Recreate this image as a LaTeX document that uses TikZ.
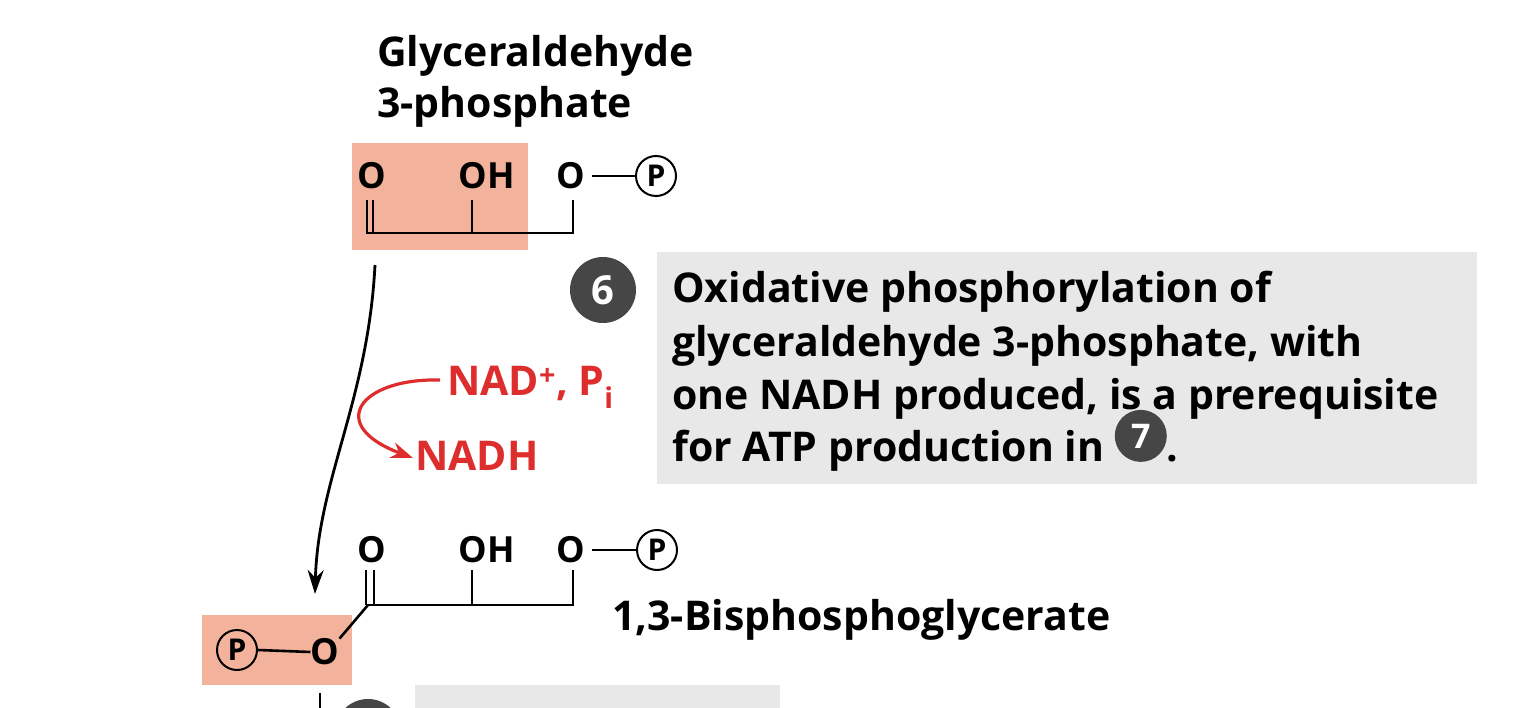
\documentclass[tikz,border=0pt]{standalone}
\usepackage{fontspec}
\setmainfont{Open Sans}
\usetikzlibrary{arrows.meta}
\definecolor{salmon}{RGB}{242,178,155}
\definecolor{boxgray}{RGB}{232,232,232}
\definecolor{nadred}{RGB}{222,45,45}
\definecolor{numgray}{RGB}{70,70,70}
\tikzset{
 atom/.style={font=\bfseries\fontsize{36}{36}\selectfont, inner sep=0pt},
 lbl/.style={font=\bfseries\fontsize{41}{52}\selectfont, inner sep=0pt, anchor=base west},
 pc/.style={circle, draw, line width=2pt, minimum size=40pt, inner sep=0pt, font=\bfseries\fontsize{30}{30}\selectfont},
 bond/.style={line width=2.6pt},
 num/.style={circle, fill=numgray, text=white, inner sep=0pt, font=\bfseries\fontsize{40}{40}\selectfont}
}
\begin{document}
\begin{tikzpicture}[x=1pt,y=-1pt]
\useasboundingbox (0,0) rectangle (1528,708);
% top molecule
\fill[salmon] (352,143) rectangle (528,250);
\node[lbl] (t1) at (377,67) {Glyceraldehyde};
\node[lbl] (t2) at (377,118) {3-phosphate};
\node[atom] (a1) at (372,176) {O};
\node[atom] (a2) at (487,176) {OH};
\node[atom] (a3) at (571,176) {O};
\node[pc] (p1) at (656,176) {P};
\draw[bond] (a3.east) ++(6,0) -- (p1.west);
\draw[bond] (367,200) -- (367,233);
\draw[bond] (373,200) -- (373,233);
\draw[bond] (366,233) -- (574,233);
\draw[bond] (472,200) -- (472,233);
\draw[bond] (573,200) -- (573,234);
% arrow
\coordinate (s) at (375,265);
\coordinate (e) at (315,594);
\draw[line width=2.8pt, -{Stealth[length=24pt,width=16pt]}] (s) .. controls (368,400) and (318,480) .. (e);
% red
\node[lbl, text=nadred] (nad) at (447,395) {NAD\textsuperscript{+}, P\textsubscript{i}};
\node[lbl, text=nadred] (nadh) at (415,470) {NADH};
\draw[nadred, line width=3.2pt, -{Stealth[length=22pt,width=16pt]}] (440,380) .. controls (360,378) and (325,425) .. (413,458);
% step 6
\node[num, minimum size=66pt] (n6) at (603,290) {6};
\fill[boxgray] (657,252) rectangle (1477,484);
\node[lbl] (l1) at (672,303) {Oxidative phosphorylation of};
\node[lbl] (l2) at (672,356) {glyceraldehyde 3-phosphate, with};
\node[lbl] (l3) at (672,409) {one NADH produced, is a prerequisite};
\node[lbl] (l4) at (672,461) {for ATP production in \tikz[baseline=-13pt]\node[num, minimum size=52pt, font=\bfseries\fontsize{34}{34}\selectfont]{7};.};
% bottom molecule
\node[atom] (b1) at (372,550) {O};
\node[atom] (b2) at (487,550) {OH};
\node[atom] (b3) at (571,550) {O};
\node[pc] (p2) at (657,550) {P};
\draw[bond] (b3.east) ++(6,0) -- (p2.west);
\draw[bond] (366,570) -- (366,605);
\draw[bond] (374,570) -- (374,605);
\draw[bond] (366,605) -- (574,605);
\draw[bond] (472,570) -- (472,605);
\draw[bond] (573,570) -- (573,606);
\node[lbl] (bn) at (612,630) {1,3-Bisphosphoglycerate};
\fill[salmon] (202,615) rectangle (352,685);
\node[atom] (b4) at (325,652) {O};
\node[pc] (p3) at (237,650) {P};
\draw[bond] (p3.east) -- (b4.west);
\draw[bond] (368,605) -- (b4.north east);
% bottom cut-off
\draw[bond] (320,693) -- (320,708);
\fill[numgray] (368,732) circle (33);
\fill[boxgray] (415,685) rectangle (780,708);
\end{tikzpicture}
\end{document}
